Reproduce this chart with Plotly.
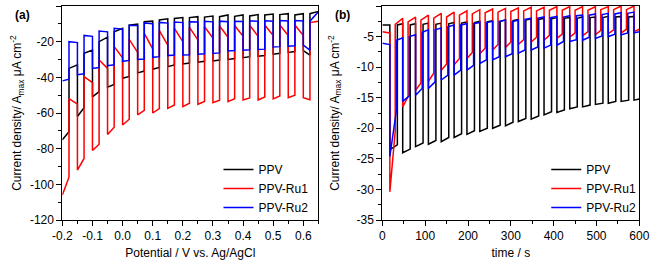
import plotly.graph_objects as go

# ---------------- Panel (a): chopped-light linear sweep ----------------
A_POT_START = -0.2
A_POT_END = 0.65
# potentials (V) where the current jumps to the less negative level / falls back
A_JUMP_UP = [-0.178, -0.128, -0.078, -0.028, 0.022, 0.072, 0.122, 0.172, 0.222,
             0.272, 0.322, 0.372, 0.422, 0.472, 0.522, 0.572, 0.622]
A_JUMP_DOWN = [-0.150, -0.100, -0.050, 0.000, 0.050, 0.100, 0.150, 0.200, 0.250,
               0.300, 0.350, 0.400, 0.450, 0.500, 0.550, 0.600]

# lower (more negative) segments: before first jump, then after each fall (start, end values)
PPV_A_LOW_S = [-75, -62, -51, -45.5, -40.5, -37.5, -35.5, -34, -32.5, -31.5, -30.8, -30, -29, -28.2, -27, -26, -25]
PPV_A_LOW_E = [-70.5, -57, -48, -44, -39.5, -36.5, -34.5, -33, -32, -31, -30.3, -29.5, -28.4, -27.8, -26.5, -25.5, -27.5]
PPV_A_UP_S = [-35, -26.5, -20, -14.4, -10.7, -8.8, -7.8, -7, -6.5, -6.2, -6, -5.8, -5.6, -5, -4.8, -5, -4.3]
PPV_A_UP_E = [-33, -24.7, -17.5, -12.5, -10.1, -8.5, -7.2, -6.5, -6, -5.6, -5, -5, -4.8, -4.5, -4.3, -4.3, -3.0]

RU1_A_LOW_S = [-106, -92, -81, -72, -66.7, -61, -60, -57.4, -56.4, -55.1, -54.2, -53.6, -52.7, -52.7, -52.1, -51.4, -51.4]
RU1_A_LOW_E = [-96, -85.5, -77.5, -68, -63.5, -58.5, -57.5, -55.5, -54.5, -53.5, -52.8, -52, -51.5, -51, -50.5, -50, -52.5]
RU1_A_UP_S = [-52, -39.6, -30.3, -22.8, -18.7, -15.3, -13.8, -12.5, -12, -11.6, -11.2, -10.9, -10.8, -10.7, -10.7, -10.7, -9.3]
RU1_A_UP_E = [-55, -43, -35, -29, -26, -24, -22, -20, -19, -18, -17.5, -17, -17, -16.5, -16.5, -16.5, -8.5]

RU2_A_LOW_S = [-42, -38.5, -35, -33.5, -31, -30, -28.8, -27.8, -27.5, -27, -26.6, -25.2, -24.8, -24.4, -23, -22.5, -22]
RU2_A_LOW_E = [-41, -38, -34.5, -33, -30.5, -29.7, -28.4, -27.5, -27.3, -26.8, -26.3, -25, -24.6, -24.2, -22.8, -22.3, -24.7]
RU2_A_UP_S = [-20, -16.5, -14, -12.5, -10.8, -9.5, -9.2, -9, -8.8, -8.6, -8.5, -8.5, -8.3, -8.3, -8.2, -8.2, -8.5]
RU2_A_UP_E = [-20.5, -17, -14.5, -13, -11, -10, -9.6, -9.3, -9, -8.9, -8.8, -8.7, -8.6, -8.5, -8.4, -8.4, -3.2]

A_XTICKS = [-0.2, -0.1, 0.0, 0.1, 0.2, 0.3, 0.4, 0.5, 0.6]
A_XTICKTEXT = ["-0.2", "-0.1", "0.0", "0.1", "0.2", "0.3", "0.4", "0.5", "0.6"]
A_YTICKS = [-120, -100, -80, -60, -40, -20, 0]
A_YTICKTEXT = ["-120", "-100", "-80", "-60", "-40", "-20", "0"]

# ---------------- Panel (b): chopped-light chronoamperometry ----------------
B_T_START = 0
B_T_END = 600
# times (s) where the current falls to the more negative level
B_FALL = [17.5, 47.5, 77.5, 107.5, 137.5, 167.5, 197.5, 227.5, 257.5, 287.5,
          317.5, 347.5, 377.5, 407.5, 437.5, 467.5, 497.5, 527.5, 557.5, 587.5]
# times (s) where each current returns to the less negative level
PPV_B_RISE = [35, 65, 95, 125, 155, 185, 215, 245, 275, 305, 335, 365, 395, 425, 455, 485, 515, 545, 575]
RU1_B_RISE = [30, 60, 90, 120, 150, 180, 210, 240, 270, 300, 330, 360, 390, 420, 450, 480, 510, 540, 570]
RU2_B_RISE = [33, 63, 93, 123, 153, 183, 213, 243, 273, 303, 333, 363, 393, 423, 453, 483, 513, 543, 573]

PPV_B_UP_S = [-3.1, -3.1, -3.1, -3.0, -3.0, -2.9, -2.8, -2.7, -2.6, -2.5, -2.4, -2.3, -2.2, -2.1, -2.0, -2.0, -1.9, -1.9, -1.8, -1.8]
PPV_B_UP_E = [-3.1, -2.9, -2.9, -2.8, -2.8, -2.7, -2.6, -2.5, -2.4, -2.3, -2.2, -2.1, -2.0, -1.9, -1.9, -1.8, -1.8, -1.7, -1.7, -1.7]
PPV_B_LOW_S = [-23.5, -24.0, -23.0, -22.6, -22.2, -21.5, -21.0, -20.5, -20.0, -19.6, -18.9, -18.5, -17.8, -17.4, -16.8, -16.5, -16.1, -15.9, -15.6, -15.4]
PPV_B_LOW_E = [-22.7, -23.4, -22.4, -22.0, -21.5, -20.9, -20.4, -20.0, -19.5, -19.0, -18.4, -18.0, -17.3, -17.0, -16.5, -16.2, -15.9, -15.6, -15.4, -15.2]

RU1_B_UP_S = [-4.2, -3.0, -2.6, -2.3, -2.0, -1.8, -1.5, -1.3, -1.1, -1.0, -0.9, -0.8, -0.8, -0.7, -0.7, -0.7, -0.7, -0.6, -0.6, -0.6]
RU1_B_UP_E = [-4.4, -2.0, -1.8, -1.5, -1.2, -1.0, -0.8, -0.6, -0.5, -0.4, -0.3, -0.2, -0.2, -0.1, -0.1, -0.1, -0.1, -0.1, 0.0, 0.0]
RU1_B_LOW_S = [-30.4, -16.5, -13.8, -12.3, -10.5, -9.6, -8.6, -7.8, -7.2, -6.8, -6.3, -5.9, -5.6, -5.3, -5.1, -4.9, -4.7, -4.5, -4.4, -4.2]
RU1_B_LOW_E = [-20.5, -14.8, -12.6, -11.0, -9.5, -8.6, -7.6, -6.9, -6.3, -5.9, -5.5, -5.1, -4.8, -4.6, -4.4, -4.2, -4.0, -3.9, -3.8, -3.8]

RU2_B_UP_S = [-6.1, -5.6, -5.0, -4.3, -3.9, -3.4, -3.1, -2.9, -2.7, -2.5, -2.6, -2.2, -2.0, -1.9, -1.8, -1.6, -1.5, -1.4, -1.3, -1.2]
RU2_B_UP_E = [-6.3, -5.2, -4.7, -3.9, -3.6, -3.1, -2.9, -2.7, -2.5, -2.3, -2.3, -2.0, -1.8, -1.7, -1.6, -1.5, -1.3, -1.2, -1.1, -1.0]
RU2_B_LOW_S = [-24.6, -15.6, -14.6, -13.5, -12.1, -11.3, -10.5, -9.4, -8.8, -8.3, -7.7, -7.2, -6.9, -6.4, -5.8, -5.6, -5.3, -5.0, -4.7, -4.4]
RU2_B_LOW_E = [-17.0, -14.7, -13.5, -12.4, -11.3, -10.5, -9.7, -8.8, -8.3, -7.8, -7.2, -6.7, -6.4, -5.8, -5.5, -5.1, -4.9, -4.6, -4.4, -4.2]

B_XTICKS = [0, 100, 200, 300, 400, 500, 600]
B_XTICKTEXT = ["0", "100", "200", "300", "400", "500", "600"]
B_YTICKS = [-35, -30, -25, -20, -15, -10, -5, 0]
B_YTICKTEXT = ["-35", "-30", "-25", "-20", "-15", "-10", "-5", "0"]

NAMES = ["PPV", "PPV-Ru1", "PPV-Ru2"]
COLORS = ["#000000", "#ff0000", "#0000ff"]
FONT = "Arial, Liberation Sans, sans-serif"


def interleave(a, b):
    out = []
    for i in range(max(len(a), len(b))):
        if i < len(a):
            out.append(a[i])
        if i < len(b):
            out.append(b[i])
    return out


def step_trace(bounds, seg_start, seg_end):
    xs, ys = [], []
    for i in range(len(seg_start)):
        xs += [bounds[i], bounds[i + 1]]
        ys += [seg_start[i], seg_end[i]]
    return xs, ys


fig = go.Figure()

# panel (a)
a_bounds = [A_POT_START] + interleave(A_JUMP_UP, A_JUMP_DOWN) + [A_POT_END]
a_series = [
    (PPV_A_LOW_S, PPV_A_LOW_E, PPV_A_UP_S, PPV_A_UP_E),
    (RU1_A_LOW_S, RU1_A_LOW_E, RU1_A_UP_S, RU1_A_UP_E),
    (RU2_A_LOW_S, RU2_A_LOW_E, RU2_A_UP_S, RU2_A_UP_E),
]
for name, color, (ls, le, us, ue) in zip(NAMES, COLORS, a_series):
    xs, ys = step_trace(a_bounds, interleave(ls, us), interleave(le, ue))
    fig.add_trace(go.Scatter(x=xs, y=ys, mode="lines", name=name,
                             line=dict(color=color, width=1.5),
                             xaxis="x", yaxis="y", legend="legend"))

# panel (b)
b_series = [
    (PPV_B_RISE, PPV_B_UP_S, PPV_B_UP_E, PPV_B_LOW_S, PPV_B_LOW_E),
    (RU1_B_RISE, RU1_B_UP_S, RU1_B_UP_E, RU1_B_LOW_S, RU1_B_LOW_E),
    (RU2_B_RISE, RU2_B_UP_S, RU2_B_UP_E, RU2_B_LOW_S, RU2_B_LOW_E),
]
for name, color, (rise, us, ue, ls, le) in zip(NAMES, COLORS, b_series):
    bounds = [B_T_START] + interleave(B_FALL, rise) + [B_T_END]
    xs, ys = step_trace(bounds, interleave(us, ls), interleave(ue, le))
    fig.add_trace(go.Scatter(x=xs, y=ys, mode="lines", name=name,
                             line=dict(color=color, width=1.5),
                             xaxis="x2", yaxis="y2", legend="legend2"))

W, H = 660, 260
ML, MT, MB = 0, 6, 40
PH = H - MT - MB
A_DOM = [54 / W, 318 / W]
B_DOM = [384 / W, 649 / W]

tickfont = dict(family=FONT, size=12, color="#000000")
titlefont = dict(family=FONT, size=12, color="#000000")

def base_axis(**kw):
    d = dict(showline=True, linecolor="#000000", linewidth=1, mirror=True,
             showgrid=False, zeroline=False, ticks="outside", ticklen=5,
             tickwidth=1, tickcolor="#000000", tickfont=tickfont)
    d.update(kw)
    return d

def mirror_axis(**kw):
    d = dict(showline=False, showgrid=False, zeroline=False, ticks="inside",
             ticklen=5, tickwidth=1, tickcolor="#000000", showticklabels=False)
    d.update(kw)
    return d

ytitle = "Current density/ A<sub>max</sub> \u03bcA cm<sup>-2</sup>"

fig.update_layout(
    width=W, height=H,
    margin=dict(l=ML, r=0, t=MT, b=MB),
    paper_bgcolor="#ffffff", plot_bgcolor="#ffffff",
    font=dict(family=FONT, size=12, color="#000000"),
    xaxis=base_axis(domain=A_DOM, range=[A_POT_START, A_POT_END], anchor="y",
                    tickvals=A_XTICKS, ticktext=A_XTICKTEXT,
                    minor=dict(ticks="outside", ticklen=3, dtick=0.05, tick0=-0.2, tickcolor="#000000"),
                    title=dict(text="Potential / V vs. Ag/AgCl", font=titlefont, standoff=6)),
    yaxis=base_axis(domain=[0, 1], range=[-120, 0], anchor="x",
                    tickvals=A_YTICKS, ticktext=A_YTICKTEXT,
                    minor=dict(ticks="outside", ticklen=3, dtick=10, tick0=0, tickcolor="#000000"),
                    title=dict(text=ytitle, font=titlefont, standoff=5)),
    xaxis2=base_axis(domain=B_DOM, range=[B_T_START, B_T_END], anchor="y2",
                     tickvals=B_XTICKS, ticktext=B_XTICKTEXT,
                     minor=dict(ticks="outside", ticklen=3, dtick=50, tick0=0, tickcolor="#000000"),
                     title=dict(text="time / s", font=titlefont, standoff=6)),
    yaxis2=base_axis(domain=[0, 1], range=[-35, 0], anchor="x2",
                     tickvals=B_YTICKS, ticktext=B_YTICKTEXT,
                     minor=dict(ticks="outside", ticklen=3, dtick=2.5, tick0=0, tickcolor="#000000"),
                     title=dict(text=ytitle, font=titlefont, standoff=14)),
    xaxis3=mirror_axis(overlaying="x", side="top", anchor="y", range=[A_POT_START, A_POT_END],
                       tickvals=A_XTICKS,
                       minor=dict(ticks="inside", ticklen=3, dtick=0.05, tick0=-0.2, tickcolor="#000000")),
    yaxis3=mirror_axis(overlaying="y", side="right", anchor="x", range=[-120, 0],
                       tickvals=A_YTICKS,
                       minor=dict(ticks="inside", ticklen=3, dtick=10, tick0=0, tickcolor="#000000")),
    xaxis4=mirror_axis(overlaying="x2", side="top", anchor="y2", range=[B_T_START, B_T_END],
                       tickvals=B_XTICKS,
                       minor=dict(ticks="inside", ticklen=3, dtick=50, tick0=0, tickcolor="#000000")),
    yaxis4=mirror_axis(overlaying="y2", side="right", anchor="x2", range=[-35, 0],
                       tickvals=B_YTICKS,
                       minor=dict(ticks="inside", ticklen=3, dtick=2.5, tick0=0, tickcolor="#000000")),
    legend=dict(x=215 / W, y=1 - (155 - MT) / PH, xanchor="left", yanchor="top",
                bgcolor="rgba(0,0,0,0)", borderwidth=0, tracegroupgap=0,
                font=dict(family=FONT, size=12, color="#000000")),
    legend2=dict(x=553 / W, y=1 - (155 - MT) / PH, xanchor="left", yanchor="top",
                 bgcolor="rgba(0,0,0,0)", borderwidth=0, tracegroupgap=0,
                 font=dict(family=FONT, size=12, color="#000000")),
    annotations=[
        dict(text="<b>(a)</b>", x=3 / W, y=1 - (15 - MT) / PH, xref="paper", yref="paper",
             xanchor="left", yanchor="middle", showarrow=False,
             font=dict(family=FONT, size=12, color="#000000")),
        dict(text="<b>(b)</b>", x=333 / W, y=1 - (15 - MT) / PH, xref="paper", yref="paper",
             xanchor="left", yanchor="middle", showarrow=False,
             font=dict(family=FONT, size=12, color="#000000")),
    ],
)

fig.write_html("out.html",
               config={"displayModeBar": False},
               post_script="document.body.style.margin='0';document.body.style.padding='0';")
